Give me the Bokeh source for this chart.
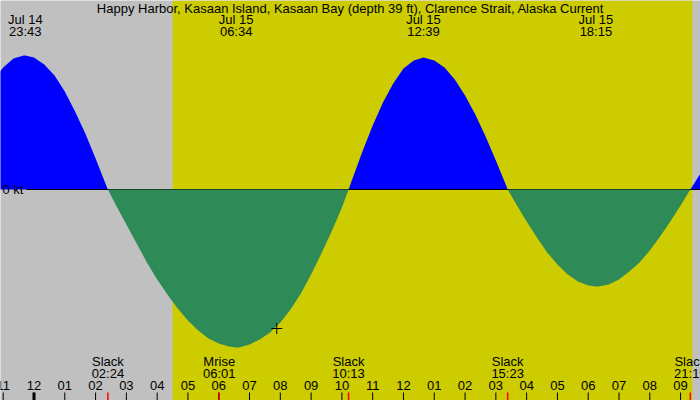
from bokeh.plotting import figure
from bokeh.models import ColumnDataSource, LabelSet, BoxAnnotation, Label
from bokeh.core.properties import value
from bokeh.embed import file_html
from bokeh.resources import INLINE

# ---- data (minutes from midnight Jul 15, knots) ----
minutes = [-80, -60, -40, -20, -17, 0, 20, 40, 60, 80, 100, 120, 140, 144,
           160, 180, 200, 220, 240, 260, 280, 300, 320, 340, 360, 380, 394,
           400, 420, 440, 460, 480, 500, 520, 540, 560, 580, 600, 613,
           620, 640, 660, 680, 700, 720, 740, 759,
           780, 800, 820, 840, 860, 880, 900, 920, 923,
           940, 960, 980, 1000, 1020, 1040, 1060, 1080, 1095,
           1100, 1120, 1140, 1160, 1180, 1200, 1220, 1240, 1260, 1279,
           1300, 1320]
knots = [1.09, 1.22, 1.31, 1.34, 1.34, 1.32, 1.25, 1.14, 0.98, 0.78, 0.56, 0.31, 0.05, 0.0,
         -0.16, -0.35, -0.54, -0.73, -0.90, -1.05, -1.19, -1.31, -1.41, -1.49, -1.54, -1.57, -1.58,
         -1.58, -1.55, -1.50, -1.43, -1.33, -1.20, -1.04, -0.85, -0.64, -0.42, -0.18, 0.0,
         0.10, 0.38, 0.64, 0.87, 1.06, 1.21, 1.29, 1.32,
         1.29, 1.22, 1.10, 0.94, 0.75, 0.53, 0.29, 0.04, 0.0,
         -0.15, -0.32, -0.48, -0.63, -0.75, -0.85, -0.92, -0.96, -0.97,
         -0.97, -0.95, -0.90, -0.82, -0.73, -0.61, -0.47, -0.32, -0.16, 0.0,
         0.17, 0.32]

extreme_min = [-17, 394, 759, 1095]
extreme_date = ["Jul 14", "Jul 15", "Jul 15", "Jul 15"]
extreme_time = ["23:43", "06:34", "12:39", "18:15"]

event_min = [144, 361, 613, 923, 1279]
event_name = ["Slack", "Mrise", "Slack", "Slack", "Slack"]
event_time = ["02:24", "06:01", "10:13", "15:23", "21:19"]

hour_min = [h * 60 for h in range(-1, 22)]
hour_labels = ["11", "12", "01", "02", "03", "04", "05", "06", "07", "08", "09", "10",
               "11", "12", "01", "02", "03", "04", "05", "06", "07", "08", "09"]

sunrise_min = 270   # 04:30
sunset_min = 1283   # 21:23

now_min = [473]
now_kt = [-1.39]

title = "Happy Harbor, Kasaan Island, Kasaan Bay (depth 39 ft), Clarence Strait, Alaska Current"

# ---- layout ----
W, H = 700, 400
PX_PER_MIN = 30.79 / 60.0
MIDNIGHT_PX = 33.5
X0 = -MIDNIGHT_PX / PX_PER_MIN
X1 = (W - MIDNIGHT_PX) / PX_PER_MIN
Y_TOP, Y_BOT = 1.89, -2.11
PX_PER_KT = H / (Y_TOP - Y_BOT)
FONT = "Liberation Sans"
FS = "13px"

p = figure(width=W, height=H, x_range=(X0, X1), y_range=(Y_BOT, Y_TOP),
           output_backend="svg", toolbar_location=None,
           x_axis_location=None, y_axis_location=None, min_border=0)
p.outline_line_color = None
p.xgrid.visible = False
p.ygrid.visible = False
p.background_fill_color = "#c0c0c0"
p.border_fill_color = "#c0c0c0"

p.add_layout(BoxAnnotation(left=sunrise_min, right=sunset_min, fill_color="#cccc00",
                           fill_alpha=1.0, line_color=None, level="underlay"))

pos = [max(v, 0.0) for v in knots]
neg = [min(v, 0.0) for v in knots]
src = ColumnDataSource(dict(x=minutes, pos=pos, neg=neg))
p.varea(x="x", y1=0, y2="pos", source=src, fill_color="#0000ff")
p.segment(x0=[X0 + 26 / PX_PER_MIN], y0=[0], x1=[X1], y1=[0], line_color="black", line_width=1)
p.varea(x="x", y1=0, y2="neg", source=src, fill_color="#2e8b57")

p.add_layout(Label(x=2, y=H - 189, x_units="screen", y_units="screen", text="0 kt",
                   text_font=FONT, text_font_size=FS, text_baseline="middle",
                   text_align="left", text_color="black"))

# ticks
tick_top = Y_BOT + 8 / PX_PER_KT
tick_src = ColumnDataSource(dict(x=hour_min, y0=[Y_BOT] * len(hour_min), y1=[tick_top] * len(hour_min)))
p.segment(x0="x", y0="y0", x1="x", y1="y1", source=tick_src, line_color="black", line_width=1)
p.segment(x0=[0], y0=[Y_BOT], x1=[0], y1=[tick_top], line_color="black", line_width=3)
ev_src = ColumnDataSource(dict(x=event_min, y0=[Y_BOT] * len(event_min), y1=[tick_top] * len(event_min),
                               name=event_name, t=event_time))
p.segment(x0="x", y0="y0", x1="x", y1="y1", source=ev_src, line_color="red", line_width=1.5)

label_style = dict(text_font=value(FONT), text_font_size=value(FS), text_align="center",
                   text_baseline="middle", text_color="black")

hl_src = ColumnDataSource(dict(x=hour_min, t=hour_labels))
p.add_layout(LabelSet(x="x", y=H - 385, y_units="screen", text="t", source=hl_src, **label_style))
p.add_layout(LabelSet(x="x", y=H - 361, y_units="screen", text="name", source=ev_src, **label_style))
p.add_layout(LabelSet(x="x", y=H - 373, y_units="screen", text="t", source=ev_src, **label_style))

ex_src = ColumnDataSource(dict(x=extreme_min, d=extreme_date, t=extreme_time))
p.add_layout(LabelSet(x="x", y=H - 19, y_units="screen", text="d", source=ex_src, **label_style))
p.add_layout(LabelSet(x="x", y=H - 31, y_units="screen", text="t", source=ex_src, **label_style))

p.add_layout(Label(x=W / 2, y=H - 8, x_units="screen", y_units="screen", text=title,
                   text_font=FONT, text_font_size=FS, text_align="center",
                   text_baseline="middle", text_color="black"))

p.scatter(x=now_min, y=now_kt, marker="cross", size=11, line_color="black", line_width=1)

open("out.html", "w").write(file_html(p, INLINE))
